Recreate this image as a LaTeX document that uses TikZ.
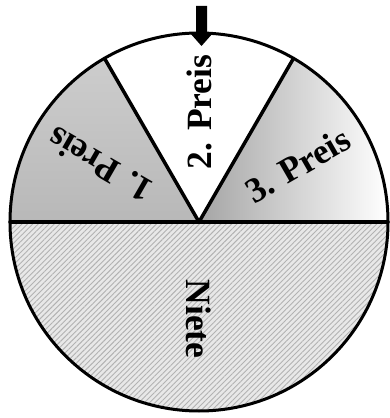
\documentclass[tikz,border=0pt]{standalone}
\usepackage{fontspec}
\setmainfont{Liberation Serif}
\usetikzlibrary{patterns.meta,calc}
\definecolor{hatchbg}{RGB}{232,232,232}
\definecolor{hatchln}{RGB}{178,178,178}
\definecolor{firstA}{RGB}{208,208,208}
\definecolor{firstB}{RGB}{184,184,184}
\definecolor{thirdA}{RGB}{165,165,165}
\begin{document}
\begin{tikzpicture}[x=1pt,y=1pt,
  lab/.style={font=\fontsize{35.5}{38}\selectfont\bfseries, inner sep=0pt},
  rim/.style={line width=3pt},
  spoke/.style={line width=3.5pt, line cap=round}]
\useasboundingbox (0,0) rectangle (389,418);
\def\R{189}
\coordinate (c) at (199,196);
\path (c) ++(180:\R) coordinate (w)
      (c) ++(0:\R) coordinate (e)
      (c) ++(120:\R) coordinate (p1)
      (c) ++(60:\R) coordinate (p2);
% Niete (lower half)
\fill[hatchbg] (w) arc (180:360:\R) -- cycle;
\fill[pattern={Lines[angle=45,distance=3.8pt,line width=0.9pt]}, pattern color=hatchln]
  (w) arc (180:360:\R) -- cycle;
% 1. Preis sector
\begin{scope}
  \clip (c) -- (p1) arc (120:180:\R) -- cycle;
  \shade[top color=firstA, bottom color=firstB] (10,196) rectangle (200,386);
\end{scope}
% 3. Preis sector
\begin{scope}
  \clip (c) -- (e) arc (0:60:\R) -- cycle;
  \shade[left color=thirdA, right color=white] (199,196) rectangle (388,386);
\end{scope}
% outlines
\draw[spoke] (w) -- (e);
\draw[spoke] (c) -- (p1);
\draw[spoke] (c) -- (p2);
\draw[rim] (c) circle (\R);
% arrow
\fill[black] (196,412) -- (207,412) -- (207,385) -- (213,385) -- (201.5,372)
  -- (190,385) -- (196,385) -- cycle;
% labels
\node[lab, rotate=90] (l2) at ($(c)+(90:110)$) {2. Preis};
\node[lab, rotate=150] (l1) at ($(c)+(150:114)$) {1. Preis};
\node[lab, rotate=30] (l3) at ($(c)+(30:114)$) {3. Preis};
\node[lab, rotate=-90] (l0) at ($(c)+(270:97)$) {Niete};
\end{tikzpicture}
\end{document}
